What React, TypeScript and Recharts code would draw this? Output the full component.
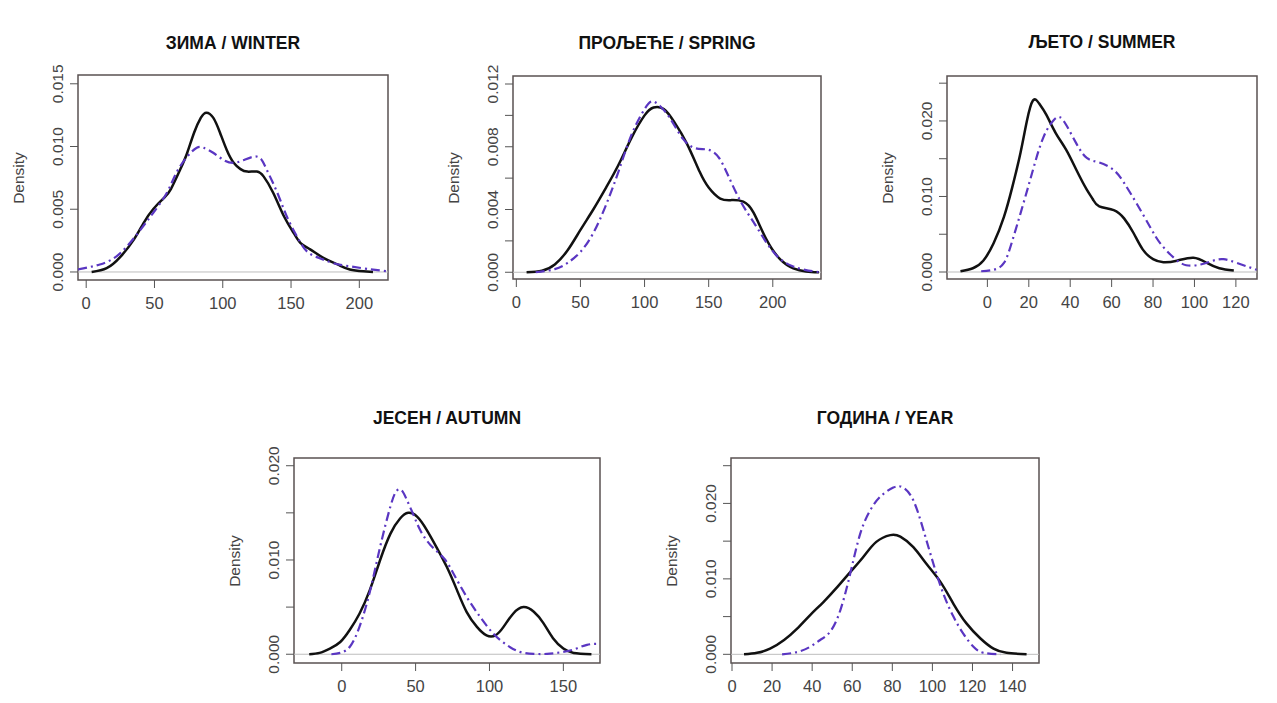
import { LineChart, Line, XAxis, YAxis, ReferenceLine, ReferenceArea } from "recharts";

type Pt = { x: number; y: number };

const winterObserved: Pt[] = [
  { x: 4, y: 0 }, { x: 15, y: 0.0003 }, { x: 25, y: 0.0012 }, { x: 35, y: 0.0026 },
  { x: 42, y: 0.0039 }, { x: 49, y: 0.005 }, { x: 57, y: 0.0059 }, { x: 62, y: 0.0066 },
  { x: 69, y: 0.0082 }, { x: 74, y: 0.0095 }, { x: 79, y: 0.0111 }, { x: 84, y: 0.0123 },
  { x: 88, y: 0.0127 }, { x: 93, y: 0.0123 }, { x: 98, y: 0.0111 }, { x: 103, y: 0.0097 },
  { x: 108, y: 0.0087 }, { x: 113, y: 0.0082 }, { x: 118, y: 0.008 }, { x: 125, y: 0.008 },
  { x: 130, y: 0.0076 }, { x: 137, y: 0.0063 }, { x: 145, y: 0.0044 }, { x: 152, y: 0.0031 },
  { x: 157, y: 0.0023 }, { x: 164, y: 0.0018 }, { x: 174, y: 0.0011 }, { x: 184, y: 0.0006 },
  { x: 193, y: 0.0002 }, { x: 203, y: 0.00005 }, { x: 210, y: 0 },
];
const winterModel: Pt[] = [
  { x: -6, y: 0.0002 }, { x: 10, y: 0.0006 }, { x: 25, y: 0.0015 }, { x: 40, y: 0.0034 },
  { x: 49, y: 0.0047 }, { x: 59, y: 0.0063 }, { x: 66, y: 0.0079 }, { x: 74, y: 0.0092 },
  { x: 81, y: 0.0099 }, { x: 86, y: 0.0099 }, { x: 93, y: 0.0095 }, { x: 101, y: 0.0089 },
  { x: 108, y: 0.0087 }, { x: 115, y: 0.0089 }, { x: 123, y: 0.0092 }, { x: 128, y: 0.009 },
  { x: 132, y: 0.0082 }, { x: 140, y: 0.0063 }, { x: 147, y: 0.0044 }, { x: 155, y: 0.0027 },
  { x: 162, y: 0.0016 }, { x: 171, y: 0.0011 }, { x: 181, y: 0.0007 }, { x: 193, y: 0.00045 },
  { x: 206, y: 0.00024 }, { x: 221, y: 0.00005 },
];

const springObserved: Pt[] = [
  { x: 8, y: 0 }, { x: 20, y: 0.0001 }, { x: 30, y: 0.0005 }, { x: 40, y: 0.0014 },
  { x: 50, y: 0.0027 }, { x: 60, y: 0.004 }, { x: 70, y: 0.0054 }, { x: 80, y: 0.0069 },
  { x: 90, y: 0.0086 }, { x: 100, y: 0.01 }, { x: 107, y: 0.0105 }, { x: 115, y: 0.0104 },
  { x: 123, y: 0.0096 }, { x: 133, y: 0.0082 }, { x: 143, y: 0.0064 }, { x: 150, y: 0.0054 },
  { x: 159, y: 0.0047 }, { x: 168, y: 0.0046 }, { x: 177, y: 0.0045 }, { x: 185, y: 0.0038 },
  { x: 195, y: 0.0021 }, { x: 206, y: 0.0008 }, { x: 216, y: 0.00025 }, { x: 226, y: 0.00005 },
  { x: 236, y: 0 },
];
const springModel: Pt[] = [
  { x: 15, y: 0 }, { x: 30, y: 0.0002 }, { x: 40, y: 0.0006 }, { x: 50, y: 0.0013 },
  { x: 60, y: 0.0025 }, { x: 70, y: 0.0043 }, { x: 80, y: 0.0065 }, { x: 90, y: 0.0088 },
  { x: 100, y: 0.0104 }, { x: 106, y: 0.0109 }, { x: 112, y: 0.0106 }, { x: 120, y: 0.0098 },
  { x: 130, y: 0.0085 }, { x: 140, y: 0.0079 }, { x: 150, y: 0.0078 }, { x: 158, y: 0.0073 },
  { x: 165, y: 0.0062 }, { x: 175, y: 0.0045 }, { x: 185, y: 0.0032 }, { x: 195, y: 0.0019 },
  { x: 205, y: 0.0009 }, { x: 215, y: 0.0004 }, { x: 225, y: 0.00015 }, { x: 237, y: 0 },
];

const summerObserved: Pt[] = [
  { x: -13, y: 0.0001 }, { x: -7, y: 0.0005 }, { x: -2, y: 0.0015 }, { x: 3, y: 0.0038 },
  { x: 8, y: 0.0073 }, { x: 12, y: 0.0112 }, { x: 16, y: 0.0158 }, { x: 19, y: 0.0199 },
  { x: 22, y: 0.0227 }, { x: 25, y: 0.0223 }, { x: 28.5, y: 0.0208 }, { x: 33, y: 0.0184 },
  { x: 38, y: 0.0162 }, { x: 43, y: 0.0135 }, { x: 48, y: 0.0109 }, { x: 51, y: 0.0096 },
  { x: 54, y: 0.0087 }, { x: 61, y: 0.0082 }, { x: 66, y: 0.0071 }, { x: 70.5, y: 0.0052 },
  { x: 75, y: 0.003 }, { x: 80, y: 0.0017 }, { x: 85, y: 0.0013 }, { x: 91.5, y: 0.0015 },
  { x: 99.5, y: 0.0019 }, { x: 106, y: 0.0012 }, { x: 112, y: 0.0005 }, { x: 119, y: 0.0002 },
];
const summerModel: Pt[] = [
  { x: -3, y: 0.0001 }, { x: 3, y: 0.0003 }, { x: 8, y: 0.0012 }, { x: 12, y: 0.0041 },
  { x: 17, y: 0.0087 }, { x: 22, y: 0.0135 }, { x: 27, y: 0.0178 }, { x: 32, y: 0.0201 },
  { x: 35, y: 0.0205 }, { x: 38, y: 0.0195 }, { x: 43, y: 0.017 }, { x: 48, y: 0.0151 },
  { x: 54, y: 0.0145 }, { x: 61, y: 0.0135 }, { x: 66, y: 0.0118 }, { x: 72, y: 0.0091 },
  { x: 78.5, y: 0.006 }, { x: 83.5, y: 0.0038 }, { x: 90, y: 0.0019 }, { x: 96, y: 0.0009 },
  { x: 103, y: 0.001 }, { x: 109, y: 0.0015 }, { x: 114, y: 0.0017 }, { x: 120.5, y: 0.0012 },
  { x: 130, y: 0.0003 },
];

const autumnObserved: Pt[] = [
  { x: -22, y: 0 }, { x: -15, y: 0.00014 }, { x: -8, y: 0.0006 }, { x: -1, y: 0.0013 },
  { x: 5.5, y: 0.0026 }, { x: 12, y: 0.0043 }, { x: 19, y: 0.0068 }, { x: 26, y: 0.01 },
  { x: 33, y: 0.0128 }, { x: 39.5, y: 0.0144 }, { x: 45, y: 0.015 }, { x: 51, y: 0.0146 },
  { x: 57.5, y: 0.0132 }, { x: 64, y: 0.0114 }, { x: 71, y: 0.0093 }, { x: 78, y: 0.0068 },
  { x: 84.5, y: 0.0045 }, { x: 91.5, y: 0.0029 }, { x: 98, y: 0.002 }, { x: 104, y: 0.002 },
  { x: 109.5, y: 0.0029 }, { x: 116, y: 0.0043 }, { x: 123, y: 0.005 }, { x: 130, y: 0.0045 },
  { x: 136.5, y: 0.0033 }, { x: 143, y: 0.0017 }, { x: 150, y: 0.0006 }, { x: 157, y: 0.00014 },
  { x: 169, y: 0 },
];
const autumnModel: Pt[] = [
  { x: -7, y: 0 }, { x: -1, y: 0.00014 }, { x: 5.5, y: 0.0008 }, { x: 12, y: 0.0029 },
  { x: 19, y: 0.0066 }, { x: 26, y: 0.0114 }, { x: 33, y: 0.0157 }, { x: 37, y: 0.0173 },
  { x: 40.5, y: 0.0174 }, { x: 44, y: 0.0164 }, { x: 48.5, y: 0.0148 }, { x: 53, y: 0.0132 },
  { x: 60, y: 0.0116 }, { x: 69, y: 0.0102 }, { x: 75.5, y: 0.0086 }, { x: 84.5, y: 0.0061 },
  { x: 93.5, y: 0.004 }, { x: 102.5, y: 0.0022 }, { x: 111.5, y: 0.001 }, { x: 120.5, y: 0.00025 },
  { x: 130, y: 0.00004 }, { x: 139, y: 0.00004 }, { x: 148, y: 0.0002 }, { x: 157, y: 0.0005 },
  { x: 166, y: 0.001 }, { x: 175, y: 0.0011 },
];

const yearObserved: Pt[] = [
  { x: 6, y: 0 }, { x: 12.5, y: 0.0002 }, { x: 19, y: 0.00075 }, { x: 26, y: 0.0019 },
  { x: 32.5, y: 0.0034 }, { x: 39, y: 0.0052 }, { x: 45.5, y: 0.0069 }, { x: 52.5, y: 0.0089 },
  { x: 59, y: 0.0109 }, { x: 65.5, y: 0.0129 }, { x: 72, y: 0.0149 }, { x: 79, y: 0.0158 },
  { x: 84, y: 0.0156 }, { x: 90.5, y: 0.0142 }, { x: 97, y: 0.012 }, { x: 104, y: 0.0096 },
  { x: 110.5, y: 0.0067 }, { x: 117, y: 0.0041 }, { x: 124, y: 0.0021 }, { x: 130.5, y: 0.00075 },
  { x: 137, y: 0.0002 }, { x: 147, y: 0 },
];
const yearModel: Pt[] = [
  { x: 25, y: 0 }, { x: 32.5, y: 0.0003 }, { x: 39, y: 0.001 }, { x: 44, y: 0.0019 },
  { x: 49, y: 0.003 }, { x: 54, y: 0.0058 }, { x: 59, y: 0.0107 }, { x: 64, y: 0.016 },
  { x: 69, y: 0.0191 }, { x: 74, y: 0.0209 }, { x: 80.5, y: 0.0221 }, { x: 85.5, y: 0.0221 },
  { x: 90.5, y: 0.0204 }, { x: 95.5, y: 0.0165 }, { x: 100.5, y: 0.012 }, { x: 105.5, y: 0.008 },
  { x: 110.5, y: 0.005 }, { x: 115.5, y: 0.0027 }, { x: 120.5, y: 0.001 }, { x: 125.5, y: 0.0002 },
  { x: 134, y: 0 },
];

// Axis ticks and labels
const winterXTicks = [0, 50, 100, 150, 200];
const winterYTicks = [0, 0.005, 0.01, 0.015];
const winterYLabels = [0, 0.005, 0.01, 0.015];
const springXTicks = [0, 50, 100, 150, 200];
const springYTicks = [0, 0.002, 0.004, 0.006, 0.008, 0.01, 0.012];
const springYLabels = [0, 0.004, 0.008, 0.012];
const summerXTicks = [0, 20, 40, 60, 80, 100, 120];
const summerYTicks = [0, 0.005, 0.01, 0.015, 0.02, 0.025];
const summerYLabels = [0, 0.01, 0.02];
const autumnXTicks = [0, 50, 100, 150];
const autumnYTicks = [0, 0.005, 0.01, 0.015, 0.02];
const autumnYLabels = [0, 0.01, 0.02];
const yearXTicks = [0, 20, 40, 60, 80, 100, 120, 140];
const yearYTicks = [0, 0.005, 0.01, 0.015, 0.02, 0.025];
const yearYLabels = [0, 0.01, 0.02];

const FONT = '"Liberation Sans", Arial, Helvetica, sans-serif';
const TEXT = "#444";
const FRAME = "#5a5252";

interface Panel {
  title: string;
  observed: Pt[];
  model: Pt[];
  xDomain: [number, number];
  yDomain: [number, number];
  xTicks: number[];
  yTicks: number[];
  yLabels: number[];
  box: { left: number; top: number; right: number; bottom: number };
  titleY: number;
}

const panels: Panel[] = [
  {
    title: "ЗИМА / WINTER", observed: winterObserved, model: winterModel,
    xDomain: [-6, 221], yDomain: [-0.00064, 0.0157],
    xTicks: winterXTicks, yTicks: winterYTicks, yLabels: winterYLabels,
    box: { left: 78, top: 75, right: 388, bottom: 280 }, titleY: 43,
  },
  {
    title: "ПРОЉЕЋЕ / SPRING", observed: springObserved, model: springModel,
    xDomain: [-2.6, 237.6], yDomain: [-0.00043, 0.01251],
    xTicks: springXTicks, yTicks: springYTicks, yLabels: springYLabels,
    box: { left: 513, top: 76, right: 821, bottom: 279 }, titleY: 43,
  },
  {
    title: "ЉЕТО / SUMMER", observed: summerObserved, model: summerModel,
    xDomain: [-19.5, 130.2], yDomain: [-0.000925, 0.02595],
    xTicks: summerXTicks, yTicks: summerYTicks, yLabels: summerYLabels,
    box: { left: 947, top: 76, right: 1257, bottom: 279 }, titleY: 42,
  },
  {
    title: "JECEH / AUTUMN", observed: autumnObserved, model: autumnModel,
    xDomain: [-32.3, 174.8], yDomain: [-0.00093, 0.02082],
    xTicks: autumnXTicks, yTicks: autumnYTicks, yLabels: autumnYLabels,
    box: { left: 294, top: 458, right: 600, bottom: 663 }, titleY: 418,
  },
  {
    title: "ГОДИНА / YEAR", observed: yearObserved, model: yearModel,
    xDomain: [-0.5, 153.2], yDomain: [-0.00115, 0.02602],
    xTicks: yearXTicks, yTicks: yearYTicks, yLabels: yearYLabels,
    box: { left: 731, top: 458, right: 1039, bottom: 663 }, titleY: 418,
  },
];

// R-style rotated y tick labels, only on the labelled ticks
function YTick(props: any) {
  const { x, y, payload, labels } = props;
  if (!labels.includes(payload.value)) return <g />;
  const bx = x - 5;
  return (
    <text
      x={bx}
      y={y}
      transform={`rotate(-90 ${bx} ${y})`}
      textAnchor="middle"
      fontSize={15.5}
      fill={TEXT}
      fontFamily={FONT}
    >
      {Number(payload.value).toFixed(3)}
    </text>
  );
}

const AXW = 70;
const MT = 30;
const MR = 10;
const XH = 50;

function DensityPanel({ p }: { p: Panel }) {
  const w = p.box.right - p.box.left;
  const h = p.box.bottom - p.box.top;
  return (
    <>
      <div
        style={{
          position: "absolute", left: p.box.left - 40, width: w + 80, top: p.titleY - 11,
          height: 22, lineHeight: "22px", textAlign: "center", fontWeight: "bold",
          fontSize: 17.5, fontFamily: FONT, color: "#111", whiteSpace: "nowrap",
        }}
      >
        {p.title}
      </div>
      <div
        style={{
          position: "absolute", left: p.box.left - 59 - 40, top: (p.box.top + p.box.bottom) / 2 - 10,
          width: 80, height: 20, lineHeight: "20px", textAlign: "center",
          transform: "rotate(-90deg)", fontSize: 15.5, color: TEXT, fontFamily: FONT,
        }}
      >
        Density
      </div>
      <div style={{ position: "absolute", left: p.box.left - AXW, top: p.box.top - MT }}>
        <LineChart
          width={w + AXW + MR}
          height={h + MT + XH}
          margin={{ top: MT, right: MR, left: 0, bottom: 0 }}
        >
          <XAxis
            type="number"
            dataKey="x"
            domain={p.xDomain}
            allowDataOverflow
            ticks={p.xTicks}
            interval={0}
            axisLine={false}
            tickLine={{ stroke: "#555" }}
            tickSize={8}
            tickMargin={9}
            height={XH}
            tick={{ fontSize: 16.5, fill: TEXT, fontFamily: FONT }}
          />
          <YAxis
            type="number"
            domain={p.yDomain}
            allowDataOverflow
            ticks={p.yTicks}
            interval={0}
            axisLine={false}
            tickLine={{ stroke: "#555" }}
            tickSize={8}
            width={AXW}
            tick={<YTick labels={p.yLabels} />}
          />
          <ReferenceLine y={0} stroke="#bdbdbd" strokeWidth={1} />
          <ReferenceArea
            x1={p.xDomain[0]}
            x2={p.xDomain[1]}
            y1={p.yDomain[0]}
            y2={p.yDomain[1]}
            fill="none"
            stroke={FRAME}
            strokeWidth={1.5}
            ifOverflow="visible"
          />
          <Line
            data={p.observed}
            dataKey="y"
            type="natural"
            stroke="#111"
            strokeWidth={2.5}
            dot={false}
            activeDot={false}
            isAnimationActive={false}
          />
          <Line
            data={p.model}
            dataKey="y"
            type="natural"
            stroke="#5a36c2"
            strokeWidth={2.2}
            strokeDasharray="9 4 2 4"
            dot={false}
            activeDot={false}
            isAnimationActive={false}
          />
        </LineChart>
      </div>
    </>
  );
}

export default function App() {
  return (
    <div
      style={{
        position: "absolute", left: 0, top: 0, width: 1277, height: 703,
        background: "#fff", overflow: "hidden",
      }}
    >
      {panels.map((p) => (
        <DensityPanel key={p.title} p={p} />
      ))}
    </div>
  );
}
